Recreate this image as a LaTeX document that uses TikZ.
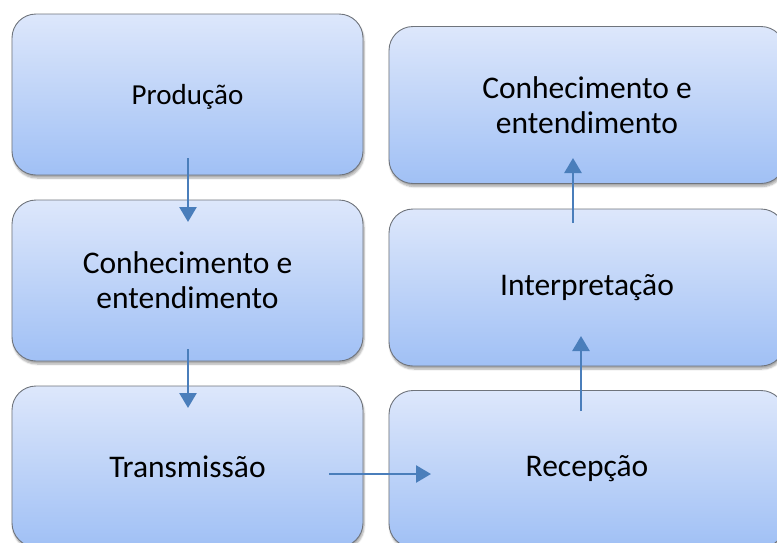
\documentclass[tikz,border=0pt]{standalone}
\usepackage{fontspec}
\setmainfont{Carlito}
\usetikzlibrary{arrows.meta,shadows.blur}
\definecolor{boxtop}{HTML}{DDE7FB}
\definecolor{boxbot}{HTML}{A0C0F5}
\definecolor{boxline}{HTML}{6F747C}
\definecolor{arrowblue}{HTML}{4A7EBB}
\tikzset{
  stagebox/.style={rectangle, rounded corners=24pt, draw=boxline, line width=0.9pt,
    top color=boxtop, bottom color=boxbot, align=center, inner sep=0pt,
    blur shadow={shadow xshift=1pt, shadow yshift=-3pt, shadow blur steps=6, shadow opacity=35},
    font=\fontsize{31.5}{35}\selectfont},
  leftbox/.style={stagebox, minimum width=351pt, minimum height=161pt},
  rightbox/.style={stagebox, minimum width=396pt, minimum height=157pt},
  flow/.style={draw=arrowblue, line width=2.6pt, -{Triangle[length=15pt,width=17pt]}}
}
\begin{document}
\begin{tikzpicture}[x=1pt,y=-1pt]
\useasboundingbox (0,0) rectangle (777,542);
\node[leftbox] (prod) at (187.5,94.5) {};
\node[font=\fontsize{29}{34}\selectfont] (prodtext) at (prod.center) [yshift=-2pt] {Produção};
\node[leftbox] (conhL) at (187.5,280.5) {Conhecimento e\\entendimento};
\node[leftbox] (trans) at (187.5,466.5) {Transmissão};
\node[rightbox] (conhR) at (587,105) {Conhecimento e\\entendimento};
\node[rightbox] (interp) at (587,287.5) {Interpretação};
\node[rightbox] (recep) at (587,469) {Recepção};
\coordinate (a1s) at (188,158);
\coordinate (a1e) at (188,222);
\coordinate (a2s) at (188,349);
\coordinate (a2e) at (188,408);
\coordinate (a3s) at (329,474);
\coordinate (a3e) at (431,474);
\coordinate (a4s) at (581,411);
\coordinate (a4e) at (581,336);
\coordinate (a5s) at (573,223);
\coordinate (a5e) at (573,158);
\draw[flow] (a1s) -- (a1e);
\draw[flow] (a2s) -- (a2e);
\draw[flow] (a3s) -- (a3e);
\draw[flow] (a4s) -- (a4e);
\draw[flow] (a5s) -- (a5e);
\end{tikzpicture}
\end{document}
